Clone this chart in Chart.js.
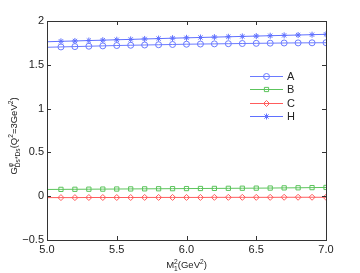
<!DOCTYPE html>
<html>
<head>
<meta charset="utf-8">
<script src="https://cdn.jsdelivr.net/npm/chart.js@4/dist/chart.umd.min.js"></script>
<style>
html, body { margin: 0; padding: 0; background: #fff; }
</style>
</head>
<body>
<canvas id="myChart" width="360" height="273"></canvas>
<script>
// Data
const massValues = [5.0, 5.1, 5.2, 5.3, 5.4, 5.5, 5.6, 5.7, 5.8, 5.9, 6.0, 6.1, 6.2, 6.3, 6.4, 6.5, 6.6, 6.7, 6.8, 6.9, 7.0];
const seriesA = [1.700, 1.704, 1.708, 1.712, 1.716, 1.720, 1.723, 1.726, 1.729, 1.732, 1.735, 1.737, 1.739, 1.741, 1.743, 1.745, 1.747, 1.749, 1.750, 1.751, 1.752];
const seriesB = [0.077, 0.078, 0.079, 0.080, 0.081, 0.082, 0.083, 0.084, 0.085, 0.086, 0.087, 0.088, 0.089, 0.090, 0.091, 0.092, 0.093, 0.095, 0.096, 0.098, 0.100];
const seriesC = [-0.016, -0.016, -0.016, -0.015, -0.015, -0.015, -0.015, -0.014, -0.014, -0.014, -0.014, -0.014, -0.013, -0.013, -0.013, -0.013, -0.013, -0.012, -0.012, -0.012, -0.012];
const seriesH = [1.763, 1.768, 1.772, 1.777, 1.781, 1.786, 1.790, 1.795, 1.799, 1.804, 1.808, 1.812, 1.816, 1.820, 1.824, 1.828, 1.832, 1.836, 1.840, 1.844, 1.848];
const xTicks = [5.0, 5.5, 6.0, 6.5, 7.0];
const yTicks = [-0.5, 0, 0.5, 1, 1.5, 2];
const seriesNames = ['A', 'B', 'C', 'H'];

const FONT = '"Liberation Sans", Arial, sans-serif';

function toPoints(vals) {
    return vals.map((v, i) => ({ x: massValues[i], y: v }));
}
// markers start at 5.1, the line starts at 5.0
const radii = massValues.map((m, i) => i === 0 ? 0 : 3);

function makeSet(label, vals, color, style) {
    return {
        label: label,
        data: toPoints(vals),
        borderColor: color,
        backgroundColor: 'rgba(0,0,0,0)',
        pointBorderColor: color,
        pointBackgroundColor: 'rgba(0,0,0,0)',
        pointStyle: style,
        pointRadius: radii,
        pointBorderWidth: 1,
        borderWidth: 1,
        tension: 0
    };
}

// draws text pieces with super/subscripts
function drawRich(ctx, parts, x, y, size) {
    let cx = x;
    let lastWidth = 0;
    parts.forEach(p => {
        const small = p.mode !== 'n';
        ctx.font = (small ? size * 0.7 : size) + 'px ' + FONT;
        let dy = 0;
        if (p.mode === 'sup') dy = -size * 0.4;
        if (p.mode === 'sub') dy = size * 0.3;
        const w = ctx.measureText(p.t).width;
        ctx.fillText(p.t, cx, y + dy);
        if (p.stack) {
            lastWidth = w;
        } else {
            cx += Math.max(w, p.after ? lastWidth : 0);
        }
    });
    return cx - x;
}

function richWidth(ctx, parts, size) {
    let w = 0, last = 0;
    parts.forEach(p => {
        ctx.font = (p.mode !== 'n' ? size * 0.7 : size) + 'px ' + FONT;
        const m = ctx.measureText(p.t).width;
        if (p.stack) last = m;
        else w += Math.max(m, p.after ? last : 0);
    });
    return w;
}

const yTitle = [
    { t: 'G', mode: 'n' },
    { t: 'φ', mode: 'sup', stack: true },
    { t: 'Ds*Ds', mode: 'sub', after: true },
    { t: '(Q', mode: 'n' },
    { t: '2', mode: 'sup' },
    { t: '=3GeV', mode: 'n' },
    { t: '2', mode: 'sup' },
    { t: ')', mode: 'n' }
];
const xTitle = [
    { t: 'M', mode: 'n' },
    { t: '2', mode: 'sup', stack: true },
    { t: '1', mode: 'sub', after: true },
    { t: '(GeV', mode: 'n' },
    { t: '2', mode: 'sup' },
    { t: ')', mode: 'n' }
];

const framePlugin = {
    id: 'frame',
    afterDraw(chart) {
        const ctx = chart.ctx;
        const a = chart.chartArea;
        const xs = chart.scales.x, ys = chart.scales.y;
        ctx.save();
        ctx.strokeStyle = '#333';
        ctx.lineWidth = 1;
        ctx.strokeRect(Math.round(a.left) + 0.5, Math.round(a.top) + 0.5,
            Math.round(a.right - a.left), Math.round(a.bottom - a.top));
        ctx.beginPath();
        xTicks.forEach(v => {
            const px = Math.round(xs.getPixelForValue(v)) + 0.5;
            ctx.moveTo(px, a.bottom); ctx.lineTo(px, a.bottom - 4);
            ctx.moveTo(px, a.top); ctx.lineTo(px, a.top + 4);
        });
        yTicks.forEach(v => {
            const py = Math.round(ys.getPixelForValue(v)) + 0.5;
            ctx.moveTo(a.left, py); ctx.lineTo(a.left + 4, py);
            ctx.moveTo(a.right, py); ctx.lineTo(a.right - 4, py);
        });
        ctx.stroke();

        // legend
        ctx.textBaseline = 'middle';
        ctx.textAlign = 'left';
        chart.data.datasets.forEach((ds, i) => {
            const ly = Math.round(76 + i * 13.3) + 0.5;
            ctx.strokeStyle = ds.borderColor;
            ctx.fillStyle = 'rgba(0,0,0,0)';
            ctx.lineWidth = 1;
            ctx.beginPath();
            ctx.moveTo(250, ly); ctx.lineTo(283, ly);
            ctx.stroke();
            Chart.helpers.drawPoint(ctx, {
                pointStyle: ds.pointStyle, radius: 3, borderWidth: 1, rotation: 0
            }, 266.5, ly);
            ctx.fillStyle = '#222';
            ctx.font = '11px ' + FONT;
            ctx.fillText(seriesNames[i], 287, ly + 0.5);
        });

        // axis titles
        ctx.fillStyle = '#222';
        ctx.textBaseline = 'alphabetic';
        const ySize = 9.5;
        const yw = richWidth(ctx, yTitle, ySize);
        ctx.save();
        ctx.translate(17, 136);
        ctx.rotate(-Math.PI / 2);
        drawRich(ctx, yTitle, -yw / 2, 0, ySize);
        ctx.restore();
        const xSize = 9.5;
        const xw = richWidth(ctx, xTitle, xSize);
        drawRich(ctx, xTitle, (a.left + a.right) / 2 - xw / 2, 268, xSize);
        ctx.restore();
    }
};

const ctx = document.getElementById('myChart').getContext('2d');
const myChart = new Chart(ctx, {
    type: 'line',
    data: {
        datasets: [
            makeSet(seriesNames[0], seriesA, '#6a7aff', 'circle'),
            makeSet(seriesNames[1], seriesB, '#5cc45c', 'rect'),
            makeSet(seriesNames[2], seriesC, '#ff5c5c', 'rectRot'),
            makeSet(seriesNames[3], seriesH, '#5f70ff', 'star')
        ]
    },
    options: {
        responsive: false,
        animation: false,
        layout: { padding: { top: 21, right: 34, left: 0, bottom: 0 } },
        plugins: { legend: { display: false }, tooltip: { enabled: false } },
        scales: {
            x: {
                type: 'linear',
                min: 5, max: 7,
                afterBuildTicks: s => { s.ticks = xTicks.map(v => ({ value: v })); },
                afterFit: s => { s.height = 33; },
                ticks: {
                    callback: v => v.toFixed(1),
                    font: { family: FONT, size: 11 },
                    color: '#222',
                    padding: 3,
                    maxRotation: 0
                },
                grid: { display: false, drawTicks: false },
                border: { display: false }
            },
            y: {
                min: -0.5, max: 2,
                afterBuildTicks: s => { s.ticks = yTicks.map(v => ({ value: v })); },
                afterFit: s => { s.width = 47; },
                ticks: {
                    callback: v => v < 0 ? '\u2212' + Math.abs(v) : String(v),
                    font: { family: FONT, size: 11 },
                    color: '#222',
                    padding: 3
                },
                grid: { display: false, drawTicks: false },
                border: { display: false }
            }
        }
    },
    plugins: [framePlugin]
});
</script>
</body>
</html>
